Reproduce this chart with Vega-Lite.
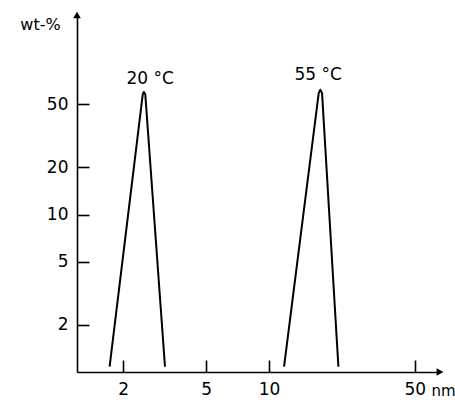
{
  "$schema": "https://vega.github.io/schema/vega-lite/v6.json",
  "width": 363,
  "height": 357,
  "autosize": "none",
  "padding": {"left": 77, "top": 15, "right": 15, "bottom": 31},
  "background": "white",
  "config": {
    "view": {"stroke": null},
    "font": "DejaVu Sans",
    "axis": {"grid": false, "domainColor": "black", "domainWidth": 1.6, "tickColor": "black", "tickWidth": 1.6, "labelColor": "black", "titleColor": "black", "labelFont": "DejaVu Sans", "titleFont": "DejaVu Sans", "labelFontSize": 17, "titleFontWeight": "normal"}
  },
  "datasets": {
    "curves": [
      {"series": "20", "size": 1.72, "wt": 1.08, "order": 1},
      {"series": "20", "size": 2.48, "wt": 58, "order": 2},
      {"series": "20", "size": 2.51, "wt": 60, "order": 3},
      {"series": "20", "size": 2.55, "wt": 58, "order": 4},
      {"series": "20", "size": 3.17, "wt": 1.08, "order": 5},
      {"series": "55", "size": 11.8, "wt": 1.08, "order": 1},
      {"series": "55", "size": 17.3, "wt": 59, "order": 2},
      {"series": "55", "size": 17.6, "wt": 62, "order": 3},
      {"series": "55", "size": 17.95, "wt": 59, "order": 4},
      {"series": "55", "size": 21.5, "wt": 1.08, "order": 5}
    ],
    "labels": [
      {"size": 2.69, "wt": 72.7, "text": "20 °C"},
      {"size": 17.2, "wt": 77, "text": "55 °C"}
    ],
    "arrows": [
      {"size": 1.2, "wt": 185, "shape": "triangle-up"},
      {"size": 66, "wt": 1, "shape": "triangle-right"}
    ]
  },
  "layer": [
    {
      "data": {"name": "curves"},
      "mark": {"type": "line", "color": "black", "strokeWidth": 2, "strokeJoin": "round"},
      "encoding": {
        "x": {"field": "size", "type": "quantitative",
          "scale": {"type": "log", "domain": [1.2, 66], "nice": false},
          "axis": {"values": [2, 5, 10, 50], "tickSize": -12, "labelPadding": 21, "labelFlush": false,
            "title": "nm", "titleAngle": 0, "titleAlign": "left", "titleBaseline": "middle", "titleX": 354, "titleY": 18, "titleFontSize": 15}},
        "y": {"field": "wt", "type": "quantitative",
          "scale": {"type": "log", "domain": [1, 185], "nice": false},
          "axis": {"values": [2, 5, 10, 20, 50], "tickSize": -12, "labelPadding": 21, "labelFlush": false,
            "title": "wt-%", "titleAngle": 0, "titleAlign": "center", "titleBaseline": "middle", "titleX": -37, "titleY": 9, "titleFontSize": 16}},
        "detail": {"field": "series"},
        "order": {"field": "order"}
      }
    },
    {
      "data": {"name": "labels"},
      "mark": {"type": "text", "fontSize": 17, "color": "black", "align": "center", "baseline": "middle"},
      "encoding": {
        "x": {"field": "size", "type": "quantitative"},
        "y": {"field": "wt", "type": "quantitative"},
        "text": {"field": "text"}
      }
    },
    {
      "data": {"name": "arrows"},
      "mark": {"type": "point", "filled": true, "color": "black", "size": 60, "opacity": 1},
      "encoding": {
        "x": {"field": "size", "type": "quantitative"},
        "y": {"field": "wt", "type": "quantitative"},
        "shape": {"field": "shape", "type": "nominal", "scale": null, "legend": null}
      }
    }
  ]
}
